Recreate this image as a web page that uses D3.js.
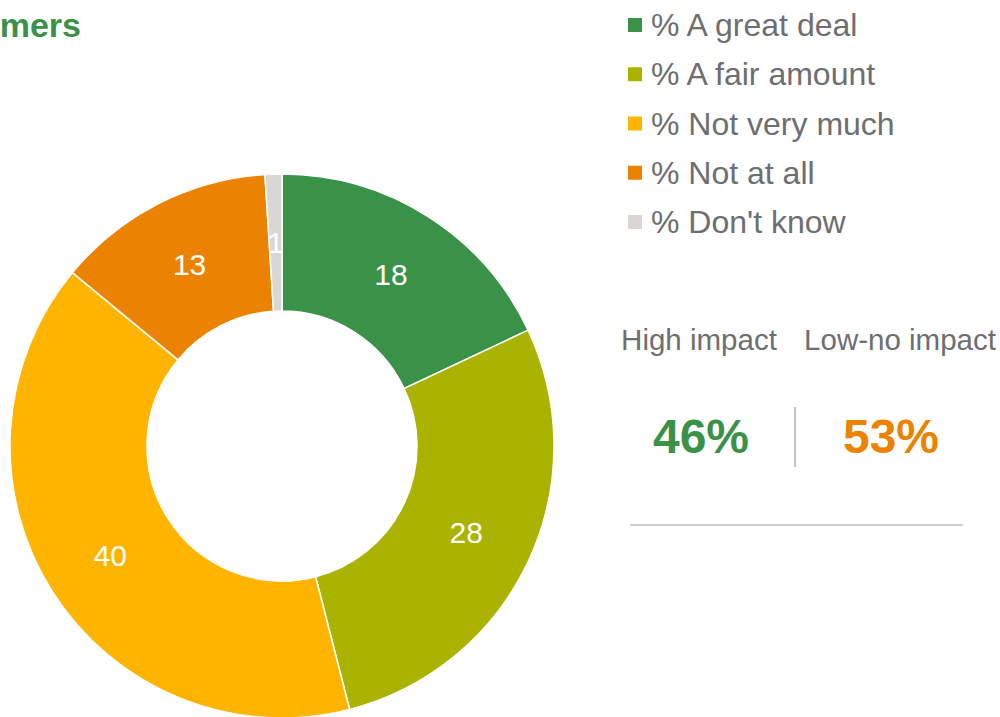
<!doctype html>
<html lang="en">
<head>
    <meta charset="utf-8"/>
    <title>Donut - impact</title>
    <script src="https://d3js.org/d3.v7.min.js"></script>
    <style>
        body {
            margin: 0;
            padding: 0;
            background: #fff;
        }
        svg text {
            font-family: "Liberation Sans", Arial, sans-serif;
        }
    </style>
</head>
<body>
<script>

    // categories and values, clockwise from the top
    const categories = ['% A great deal', '% A fair amount', '% Not very much', '% Not at all', "% Don't know"]
    const values = [18, 28, 40, 13, 1]
    const colors = ['#3a9249', '#a9b300', '#ffb400', '#ec8300', '#d9d6d3']

    // summary numbers on the right
    const summaryLabels = ['High impact', 'Low-no impact']
    const summaryValues = ['46%', '53%']
    const summaryColors = ['#3a9249', '#ec8300']

    const titleText = 'mers'

    const width = 1000, height = 717
    const svg = d3.select('body')
        .append('svg')
        .attr('width', width)
        .attr('height', height)

    // title, cut at the left edge
    svg.append('text')
        .attr('x', 81)
        .attr('y', 37)
        .attr('text-anchor', 'end')
        .style('font-size', '34px')
        .style('font-weight', 'bold')
        .style('fill', '#3a9249')
        .text(titleText)

    // donut
    const cx = 282, cy = 446
    const outerR = 272, innerR = 135

    const pie = d3.pie().sort(null).value(d => d)
    const arc = d3.arc().innerRadius(innerR).outerRadius(outerR)
    const labelArc = d3.arc().innerRadius(innerR).outerRadius(outerR)

    const g = svg.append('g').attr('transform', `translate(${cx},${cy})`)
    const arcs = pie(values)

    g.selectAll('path')
        .data(arcs)
        .enter()
        .append('path')
        .attr('d', arc)
        .attr('fill', (d, i) => colors[i])
        .attr('stroke', '#fff')
        .attr('stroke-width', 1.5)

    g.selectAll('text.lbl')
        .data(arcs)
        .enter()
        .append('text')
        .attr('class', 'lbl')
        .attr('transform', d => `translate(${labelArc.centroid(d)})`)
        .attr('text-anchor', 'middle')
        .attr('dy', '0.36em')
        .style('font-size', '30px')
        .style('fill', '#fff')
        .text(d => d.data)

    // legend
    const legend = svg.append('g').attr('transform', 'translate(628,0)')
    const rowY = d3.scalePoint().domain(categories).range([25, 222])

    categories.forEach(function (c, i) {
        legend.append('rect')
            .attr('x', 0)
            .attr('y', rowY(c) - 7)
            .attr('width', 14)
            .attr('height', 14)
            .attr('fill', colors[i])
        legend.append('text')
            .attr('x', 23)
            .attr('y', rowY(c) + 11)
            .style('font-size', '32px')
            .style('fill', '#6d6e71')
            .text(c)
    })

    // summary block
    const colX = d3.scalePoint().domain(summaryLabels).range([699, 900])

    summaryLabels.forEach(function (s, i) {
        svg.append('text')
            .attr('x', colX(s))
            .attr('y', 350)
            .attr('text-anchor', 'middle')
            .style('font-size', '29.5px')
            .style('fill', '#6d6e71')
            .text(s)
        svg.append('text')
            .attr('x', i === 0 ? 701 : 891)
            .attr('y', 453)
            .attr('text-anchor', 'middle')
            .style('font-size', '48px')
            .style('font-weight', 'bold')
            .style('fill', summaryColors[i])
            .text(summaryValues[i])
    })

    svg.append('line')
        .attr('x1', 795).attr('x2', 795)
        .attr('y1', 407).attr('y2', 467)
        .attr('stroke', '#b0b0b0')
        .attr('stroke-width', 1.5)

    svg.append('line')
        .attr('x1', 630).attr('x2', 963)
        .attr('y1', 525).attr('y2', 525)
        .attr('stroke', '#999')
        .attr('stroke-width', 1.2)

</script>
</body>
</html>
